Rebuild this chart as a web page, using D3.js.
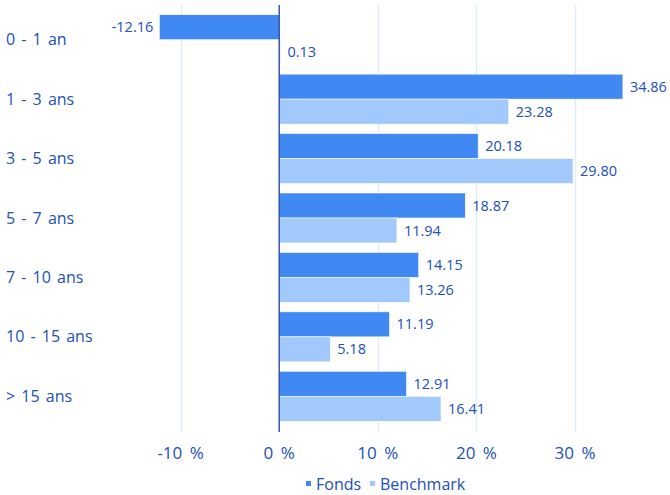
<!DOCTYPE html>
<html>
<head>
<meta charset="utf-8">
<script src="https://cdn.jsdelivr.net/npm/d3@7"></script>
<style>
  html, body { margin: 0; padding: 0; background: #fff; }
  svg { display: block; font-family: "Open Sans", "Noto Sans", sans-serif; }
</style>
</head>
<body>
<div id="chart"></div>
<script>
const categories = ['0 - 1 an', '1 - 3 ans', '3 - 5 ans', '5 - 7 ans', '7 - 10 ans', '10 - 15 ans', '> 15 ans']
const fonds = [-12.16, 34.86, 20.18, 18.87, 14.15, 11.19, 12.91]
const benchmark = [0.13, 23.28, 29.80, 11.94, 13.26, 5.18, 16.41]
const tickValues = [-10, 0, 10, 20, 30]
const seriesNames = ['Fonds', 'Benchmark']

const width = 670
const height = 495
const textColor = '#2150b8'
const colors = { Fonds: '#4088f2', Benchmark: '#a2c9fb' }
const fmt = v => d3.format('.2f')(v).replace('\u2212', '-')

const svg = d3.select('#chart')
  .append('svg')
  .attr('width', width)
  .attr('height', height)

const x = d3.scaleLinear().domain([-10, 30]).range([180.6, 575])
const y = d3.scaleBand().domain(categories).range([10, 426]).padding(0)
const barH = 25
const groupOffset = (y.bandwidth() - 2 * barH) / 2

// grid lines
svg.append('g')
  .selectAll('line')
  .data(tickValues.filter(d => d !== 0))
  .join('line')
  .attr('x1', d => Math.round(x(d)) + 0.5)
  .attr('x2', d => Math.round(x(d)) + 0.5)
  .attr('y1', 5)
  .attr('y2', 432)
  .attr('stroke', '#e0ecfc')
  .attr('stroke-width', 1.5)

const rows = categories.map((c, i) => ({ cat: c, Fonds: fonds[i], Benchmark: benchmark[i] }))

const group = svg.append('g')
  .selectAll('g')
  .data(rows)
  .join('g')
  .attr('transform', d => `translate(0,${y(d.cat) + groupOffset})`)

seriesNames.forEach((s, si) => {
  group.append('rect')
    .attr('x', d => x(Math.min(0, d[s])))
    .attr('y', si * barH)
    .attr('width', d => Math.abs(x(d[s]) - x(0)))
    .attr('height', barH)
    .attr('fill', colors[s])
    .attr('stroke', '#fff')
    .attr('stroke-width', 0.6)

  group.append('text')
    .attr('x', d => d[s] < 0 ? x(d[s]) - 6 : x(d[s]) + 7)
    .attr('y', si * barH + barH / 2)
    .attr('dy', '0.35em')
    .attr('text-anchor', d => d[s] < 0 ? 'end' : 'start')
    .attr('fill', textColor)
    .style('font-size', '14.5px')
    .text(d => fmt(d[s]))
})

// zero axis line
svg.append('line')
  .attr('x1', x(0)).attr('x2', x(0))
  .attr('y1', 5).attr('y2', 432)
  .attr('stroke', '#1a3f9e')
  .attr('stroke-width', 1.3)

// category labels
svg.append('g')
  .selectAll('text')
  .data(categories)
  .join('text')
  .attr('x', 6)
  .attr('y', d => y(d) + y.bandwidth() / 2)
  .attr('dy', '0.35em')
  .attr('fill', textColor)
  .style('font-size', '16px')
  .style('word-spacing', '2px')
  .text(d => d)

// x tick labels
svg.append('g')
  .selectAll('text')
  .data(tickValues)
  .join('text')
  .attr('x', d => x(d))
  .attr('y', 459)
  .attr('text-anchor', 'middle')
  .attr('fill', textColor)
  .style('font-size', '17px')
  .style('word-spacing', '3px')
  .text(d => `${d} %`)

// legend
const legend = svg.append('g')
const legendX = [306, 370]
seriesNames.forEach((s, i) => {
  legend.append('rect')
    .attr('x', legendX[i])
    .attr('y', 481)
    .attr('width', 5)
    .attr('height', 5)
    .attr('fill', colors[s])
  legend.append('text')
    .attr('x', legendX[i] + 10)
    .attr('y', 490)
    .attr('fill', textColor)
    .style('font-size', '16px')
    .text(s)
})
</script>
</body>
</html>
